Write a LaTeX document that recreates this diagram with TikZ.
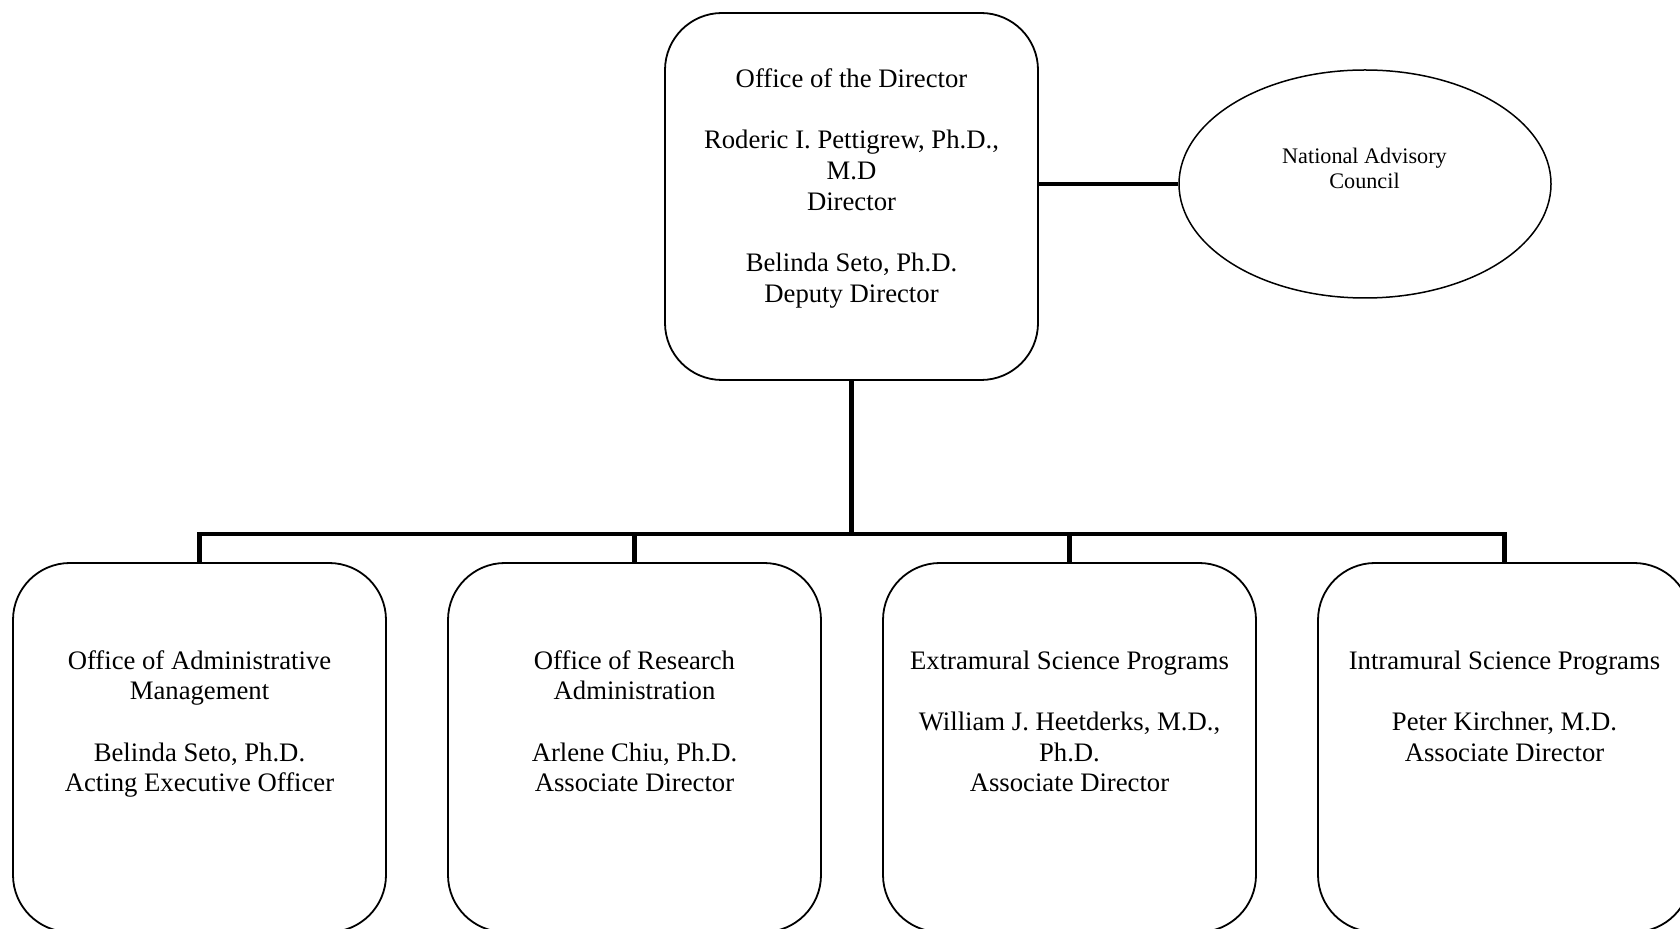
\documentclass[tikz,border=0pt]{standalone}
\usepackage{fontspec}
\setmainfont{Liberation Serif}
\usetikzlibrary{shapes.geometric}
\tikzset{
  orgbox/.style={draw, line width=0.9pt, rounded corners=28.5pt, minimum width=186.5pt, minimum height=184.5pt, inner sep=0pt},
  council/.style={draw, line width=0.75pt, ellipse, minimum width=186pt, minimum height=114pt, inner sep=0pt},
  link/.style={line width=2.4pt, line join=miter, line cap=butt},
  boxtext/.style={anchor=base, inner sep=0pt, font=\fontsize{13.35}{15.35}\selectfont},
  smalltext/.style={anchor=base, inner sep=0pt, font=\fontsize{11.1}{12.2}\selectfont}
}
\begin{document}
\begin{tikzpicture}[x=0.5pt, y=-0.5pt]
\useasboundingbox (0,0) rectangle (1680,929);
% boxes
\node[orgbox, minimum height=183.5pt] (dir) at (851.5,196.5) {};
\node[council] (nac) at (1365,184) {};
\node[orgbox] (c1) at (199.5,747.5) {};
\node[orgbox] (c2) at (634.5,747.5) {};
\node[orgbox] (c3) at (1069.5,747.5) {};
\node[orgbox] (c4) at (1504.5,747.5) {};
\coordinate (bus) at (851.5,534);
% texts
\node[boxtext] (dirt) at (851.5,87.5) {\begin{tabular}[t]{@{}c@{}}Office of the Director\\ \\ Roderic I. Pettigrew, Ph.D.,\\ M.D\\ Director\\ \\ Belinda Seto, Ph.D.\\ Deputy Director\end{tabular}};
\node[smalltext] (nact) at (1364.5,164) {\begin{tabular}[t]{@{}c@{}}National Advisory\\ Council\end{tabular}};
\node[boxtext] (c1t) at (199.5,669) {\begin{tabular}[t]{@{}c@{}}Office of Administrative\\ Management\\ \\ Belinda Seto, Ph.D.\\ Acting Executive Officer\end{tabular}};
\node[boxtext] (c2t) at (634.5,669) {\begin{tabular}[t]{@{}c@{}}Office of Research\\ Administration\\ \\ Arlene Chiu, Ph.D.\\ Associate Director\end{tabular}};
\node[boxtext] (c3t) at (1069.5,669) {\begin{tabular}[t]{@{}c@{}}Extramural Science Programs\\ \\ William J. Heetderks, M.D.,\\ Ph.D.\\ Associate Director\end{tabular}};
\node[boxtext] (c4t) at (1504.5,669) {\begin{tabular}[t]{@{}c@{}}Intramural Science Programs\\ \\ Peter Kirchner, M.D.\\ Associate Director\end{tabular}};
% connectors
\draw[link] (dir.east |- nac.west) -- (nac.west);
\draw[link] (dir.south) -- (bus);
\draw[link] (c1.north) -- (c1.north |- bus) -- (c4.north |- bus) -- (c4.north);
\draw[link] (c2.north |- bus) -- (c2.north);
\draw[link] (c3.north |- bus) -- (c3.north);
\end{tikzpicture}
\end{document}
